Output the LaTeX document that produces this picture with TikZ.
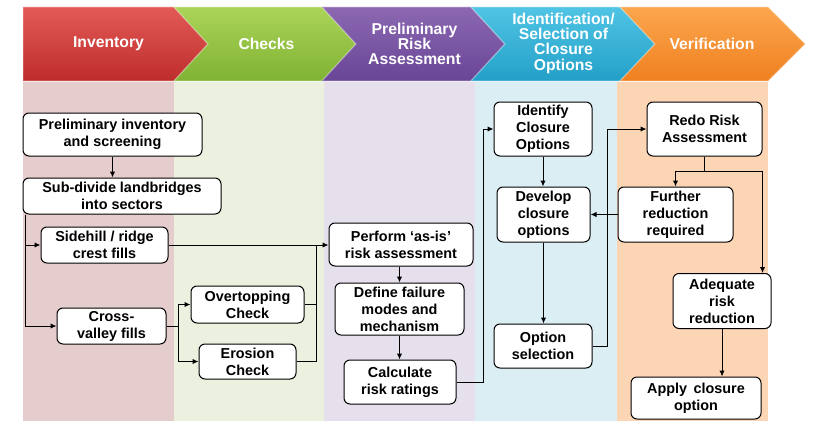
\documentclass[tikz,border=0pt]{standalone}
\usepackage{fontspec}
\setmainfont{Liberation Sans}
\usetikzlibrary{arrows.meta,calc}
\definecolor{bgred}{RGB}{229,205,205}
\definecolor{bggreen}{RGB}{235,241,222}
\definecolor{bgpurple}{RGB}{229,224,236}
\definecolor{bgblue}{RGB}{219,238,244}
\definecolor{bgorange}{RGB}{252,213,181}
\definecolor{redT}{RGB}{226,90,86}
\definecolor{redB}{RGB}{190,45,43}
\definecolor{greenT}{RGB}{170,212,88}
\definecolor{greenB}{RGB}{128,178,52}
\definecolor{purpleT}{RGB}{140,104,178}
\definecolor{purpleB}{RGB}{105,70,150}
\definecolor{blueT}{RGB}{80,196,228}
\definecolor{blueB}{RGB}{35,160,200}
\definecolor{orangeT}{RGB}{251,166,78}
\definecolor{orangeB}{RGB}{240,128,32}
\begin{document}
\begin{tikzpicture}[x=0.75pt,y=-0.75pt,
  box/.style={draw=black, fill=white, rounded corners=4.5pt, line width=0.75pt, align=center, inner sep=1pt,
    font=\bfseries\fontsize{10.8}{12.8}\selectfont},
  sz/.style 2 args={minimum width=#1*0.75pt, minimum height=#2*0.75pt},
  arr/.style={line width=0.75pt, -{Latex[length=4.5pt,width=4pt]}},
  ln/.style={line width=0.75pt},
  htext/.style={text=white, align=center, font=\bfseries\fontsize{11.8}{11.5}\selectfont},
  chev/.style={draw=white, draw opacity=0.25, line width=1pt}
]
\useasboundingbox (0,0) rectangle (816,435);
\fill[white] (0,0) rectangle (816,435);
% column backgrounds
\fill[bgred] (23,82) rectangle (174,421);
\fill[bggreen] (174,82) rectangle (324,421);
\fill[bgpurple] (324,82) rectangle (475,421);
\fill[bgblue] (475,82) rectangle (617,421);
\fill[bgorange] (617,82) rectangle (768,421);
% header chevrons
\shade[top color=redT, bottom color=redB, chev] (23,7) -- (174,7) -- (208,44) -- (174,81) -- (23,81) -- cycle;
\shade[top color=greenT, bottom color=greenB, chev] (174,7) -- (322,7) -- (356,44) -- (322,81) -- (174,81) -- (208,44) -- cycle;
\shade[top color=purpleT, bottom color=purpleB, chev] (322,7) -- (471,7) -- (505,44) -- (471,81) -- (322,81) -- (356,44) -- cycle;
\shade[top color=blueT, bottom color=blueB, chev] (471,7) -- (620,7) -- (655,44) -- (620,81) -- (471,81) -- (505,44) -- cycle;
\shade[top color=orangeT, bottom color=orangeB, chev] (620,7) -- (768,7) -- (805,44) -- (768,81) -- (620,81) -- (655,44) -- cycle;
\node[htext] (hinv) at (108.5,44) {Inventory};
\node[htext] (hchk) at (266.5,44) {Checks};
\node[htext] (hpra) at (414.5,44) {Preliminary\\Risk\\Assessment};
\node[htext] (hid) at (563.5,43) {Identification/\\Selection of\\Closure\\Options};
\node[htext] (hver) at (712,44) {Verification};
% boxes
\node[box, sz={179}{43}] (prelim) at (112.5,134.5) {Preliminary inventory\\and screening};
\node[box, sz={198}{36}] (subdiv) at (122,196) {Sub-divide landbridges\\into sectors};
\node[box, sz={127}{36}] (side) at (104.5,245) {Sidehill / ridge\\crest fills};
\node[box, sz={109}{36}] (cross) at (111.5,326) {Cross-\\valley fills};
\node[box, sz={113}{37}] (over) at (247.5,304.5) {Overtopping\\Check};
\node[box, sz={97}{35}] (eros) at (247.5,361.5) {Erosion\\Check};
\node[box, sz={144}{43}] (perf) at (401,244.5) {Perform ‘as-is’\\risk assessment};
\node[box, sz={129}{52}] (defn) at (399.5,309) {Define failure\\modes and\\mechanism};
\node[box, sz={112}{44}] (calc) at (400,382) {Calculate\\risk ratings};
\node[box, sz={98}{54}] (ident) at (543,129) {Identify\\Closure\\Options};
\node[box, sz={93}{55}] (devel) at (543.5,214.5) {Develop\\closure\\options};
\node[box, sz={98}{44}] (optsel) at (543,346) {Option\\selection};
\node[box, sz={115}{54}] (redo) at (704.5,129) {Redo Risk\\Assessment};
\node[box, sz={115}{55}] (furth) at (675.5,214.5) {Further\\reduction\\required};
\node[box, sz={98}{55}] (adeq) at (722,301) {Adequate\\risk\\reduction};
\node[box, sz={130}{42}] (apply) at (696,398) {Apply\, closure\\option};
% connectors
\draw[arr] (prelim.south) -- (prelim.south |- subdiv.north);
\coordinate (sd) at ([xshift=2.25pt]subdiv.south west);
\draw[arr] (sd) |- (side.west);
\draw[arr] (sd) |- (cross.west);
\draw[arr] (cross.east) -- ++(12,0) |- (over.west);
\draw[arr] (cross.east) -- ++(12,0) |- (eros.west);
\draw[arr] (side.east) -- (side.east -| perf.west);
\coordinate (jn) at (316,245);
\draw[ln] (over.east) -| (jn);
\draw[ln] (eros.east) -| (jn);
\draw[arr] (defn.north |- perf.south) -- (defn.north);
\draw[arr] (defn.south) -- (defn.south |- calc.north);
\draw[arr] (calc.east) -- ++(27,0) |- (ident.west);
\draw[arr] (ident.south) -- (ident.south |- devel.north);
\draw[arr] (devel.south) -- (devel.south |- optsel.north);
\draw[arr] (optsel.east) -- ++(15,0) |- (redo.west);
\draw[arr] (furth.west) -- (devel.east);
\draw[ln] (redo.south) -- ++(0,15) coordinate (sp);
\draw[arr] (sp) -| (furth.north);
\draw[arr] (sp) -| ([xshift=-6.75pt]adeq.north east);
\draw[arr] (adeq.south) -- (adeq.south |- apply.north);
\end{tikzpicture}
\end{document}
